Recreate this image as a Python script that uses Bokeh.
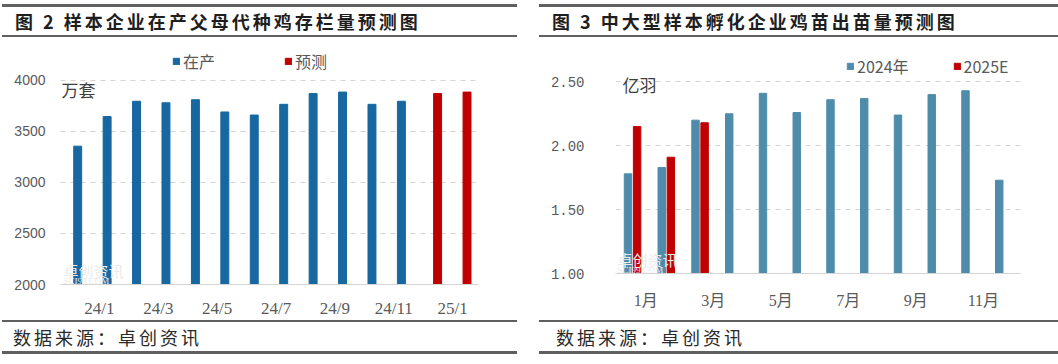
from bokeh.plotting import figure
from bokeh.models import (Label, Legend, LegendItem, FixedTicker, Range1d,
                          NumeralTickFormatter, ColumnDataSource, Div)
from bokeh.layouts import row, column
from bokeh.embed import file_html
from bokeh.resources import INLINE

# ---------------- data ----------------
left_categories = ["24/1", "24/2", "24/3", "24/4", "24/5", "24/6", "24/7", "24/8",
                   "24/9", "24/10", "24/11", "24/12", "25/1", "25/2"]
left_in_production = [3355, 3645, 3795, 3780, 3810, 3690, 3660, 3765, 3870, 3885, 3765, 3795]
left_forecast = [3870, 3885]
left_tick_labels = ["24/1", "24/3", "24/5", "24/7", "24/9", "24/11", "25/1"]
left_yticks = [2000, 2500, 3000, 3500, 4000]

right_months = ["1月", "2月", "3月", "4月", "5月", "6月", "7月", "8月", "9月", "10月", "11月", "12月"]
right_2024 = [1.78, 1.83, 2.20, 2.25, 2.41, 2.26, 2.36, 2.37, 2.24, 2.40, 2.43, 1.73]
right_2025e = [2.15, 1.91, 2.18]
right_tick_labels = ["1月", "3月", "5月", "7月", "9月", "11月"]
right_yticks = [1.0, 1.5, 2.0, 2.5]

CJK = "Noto Sans CJK SC"
TICK_GREY = "#595959"
LINE_GREY = "#606060"
FIG_H = 283


def title_div(text, width, pad_left, margin_left):
    return Div(text=text, width=width, height=33, margin=(4, 0, 0, margin_left),
               styles={"border-top": f"3px solid {LINE_GREY}",
                       "border-bottom": f"2px solid {LINE_GREY}",
                       "box-sizing": "border-box", "height": "33px",
                       "padding-left": f"{pad_left}px", "letter-spacing": "3px",
                       "font-family": CJK, "font-weight": "bold", "font-size": "18px",
                       "line-height": "28px", "color": "#1e1e1e", "white-space": "nowrap",
                       "overflow": "hidden", "display": "block"})


def source_div(width, pad_left, margin_left):
    return Div(text="数据来源：卓创资讯", width=width, height=34, margin=(0, 0, 0, margin_left),
               styles={"border-top": f"2px solid {LINE_GREY}",
                       "border-bottom": f"3px solid {LINE_GREY}",
                       "box-sizing": "border-box", "height": "34px",
                       "padding-left": f"{pad_left}px", "letter-spacing": "3px",
                       "font-family": CJK, "font-size": "18px",
                       "line-height": "31px", "color": "#2a2a2a", "white-space": "nowrap",
                       "overflow": "hidden", "display": "block"})


def style(p, standoff_y, standoff_x):
    p.outline_line_color = None
    p.background_fill_color = "white"
    p.border_fill_color = "white"
    p.xgrid.grid_line_color = None
    p.ygrid.grid_line_color = "#d4d4d4"
    p.ygrid.grid_line_dash = "5 5"
    p.yaxis.axis_line_color = None
    p.yaxis.major_tick_line_color = None
    p.yaxis.minor_tick_line_color = None
    p.yaxis.major_label_standoff = standoff_y
    p.yaxis.major_label_text_color = TICK_GREY
    p.xaxis.axis_line_color = "#d4d4d4"
    p.xaxis.major_tick_line_color = None
    p.xaxis.minor_tick_line_color = None
    p.xaxis.major_label_standoff = standoff_x
    p.xaxis.major_label_text_color = TICK_GREY


def watermark(p, x, y1, y2):
    p.add_layout(Label(x=x, y=y1, text="卓创资讯", text_font=CJK, text_font_size="15px",
                       text_color="#ebebeb", text_baseline="middle"))
    p.add_layout(Label(x=x, y=y2, text="SCI99.COM", text_font="Liberation Serif",
                       text_font_size="9px", text_color="#ebebeb", text_baseline="middle"))


# ---------------- left chart ----------------
p1 = figure(width=533, height=FIG_H, output_backend="svg", toolbar_location=None,
            x_range=Range1d(-0.704, len(left_categories) - 0.5), y_range=Range1d(2000, 4400),
            min_border_left=60, min_border_right=55, min_border_top=2, min_border_bottom=35)
style(p1, 9, 8)
n0 = len(left_in_production)
src1a = ColumnDataSource(dict(x=[i - 0.12 for i in range(n0)], top=left_in_production))
src1b = ColumnDataSource(dict(x=[n0 + i + 0.11 for i in range(len(left_forecast))],
                              top=left_forecast))
r1a = p1.vbar(x="x", top="top", width=0.27, source=src1a, color="#1767a1")
r1b = p1.vbar(x="x", top="top", width=0.27, source=src1b, color="#c00000")
p1.yaxis.ticker = FixedTicker(ticks=left_yticks)
p1.ygrid.ticker = FixedTicker(ticks=left_yticks[1:])
p1.yaxis.major_label_text_font = "Liberation Sans"
p1.yaxis.major_label_text_font_size = "14px"
lt = [i + 0.62 for i in range(0, len(left_categories), 2)]
p1.xaxis.ticker = FixedTicker(ticks=lt)
p1.xaxis.major_label_overrides = {t: lab for t, lab in zip(lt, left_tick_labels)}
p1.xaxis.major_label_text_font = "Liberation Serif"
p1.xaxis.major_label_text_font_size = "17px"
leg1 = Legend(items=[LegendItem(label="在产", renderers=[r1a]),
                     LegendItem(label="预测", renderers=[r1b])],
              location=(112, 211), orientation="horizontal", spacing=69,
              glyph_width=8, glyph_height=8, label_standoff=3, padding=0, margin=0,
              border_line_color=None, background_fill_alpha=0,
              label_text_font=CJK, label_text_font_size="16px", label_text_color=TICK_GREY)
p1.add_layout(leg1, "center")
p1.add_layout(Label(x=-0.67, y=3912, text="万套", text_font=CJK, text_font_size="17px",
                    text_color="#404040", text_baseline="middle"))
watermark(p1, -0.6, 2137, 2039)

# ---------------- right chart ----------------
p2 = figure(width=525, height=FIG_H, output_backend="svg", toolbar_location=None,
            x_range=Range1d(-0.5, len(right_months) - 0.5), y_range=Range1d(1.0, 2.8),
            min_border_left=82, min_border_right=38, min_border_top=6, min_border_bottom=47)
style(p2, 25, 12)
src2a = ColumnDataSource(dict(x=[i - 0.13 for i in range(len(right_2024))], top=right_2024))
src2b = ColumnDataSource(dict(x=[i + 0.14 for i in range(len(right_2025e))], top=right_2025e))
r2a = p2.vbar(x="x", top="top", width=0.22, source=src2a, color="#4f8cab")
r2b = p2.vbar(x="x", top="top", width=0.22, source=src2b, color="#c00000")
p2.yaxis.ticker = FixedTicker(ticks=right_yticks)
p2.ygrid.ticker = FixedTicker(ticks=right_yticks[1:])
p2.yaxis.formatter = NumeralTickFormatter(format="0.00")
p2.yaxis.major_label_text_font = "Liberation Mono"
p2.yaxis.major_label_text_font_size = "14px"
rt = [i + 0.4 for i in range(0, len(right_months), 2)]
p2.xaxis.ticker = FixedTicker(ticks=rt)
p2.xaxis.major_label_overrides = {t: lab for t, lab in zip(rt, right_tick_labels)}
p2.xaxis.major_label_text_font = "Liberation Serif, Noto Sans CJK SC"
p2.xaxis.major_label_text_font_size = "16px"
leg2 = Legend(items=[LegendItem(label="2024年", renderers=[r2a]),
                     LegendItem(label="2025E", renderers=[r2b])],
              location=(231, 195), orientation="horizontal", spacing=44,
              glyph_width=8, glyph_height=8, label_standoff=3, padding=0, margin=0,
              border_line_color=None, background_fill_alpha=0,
              label_text_font=CJK, label_text_font_size="16px", label_text_color=TICK_GREY)
p2.add_layout(leg2, "center")
p2.add_layout(Label(x=-0.29, y=2.479, text="亿羽", text_font=CJK, text_font_size="17px",
                    text_color="#404040", text_baseline="middle"))
watermark(p2, -0.44, 1.108, 1.03)

left_col = column(title_div("图 2 样本企业在产父母代种鸡存栏量预测图", 515, 13, 2), p1,
                  source_div(515, 11, 2), spacing=0)
right_col = column(title_div("图 3 中大型样本孵化企业鸡苗出苗量预测图", 519, 13, 6), p2,
                   source_div(519, 17, 6), spacing=0)
layout = row(left_col, right_col, spacing=0)
open("out.html", "w").write(file_html(layout, INLINE))
